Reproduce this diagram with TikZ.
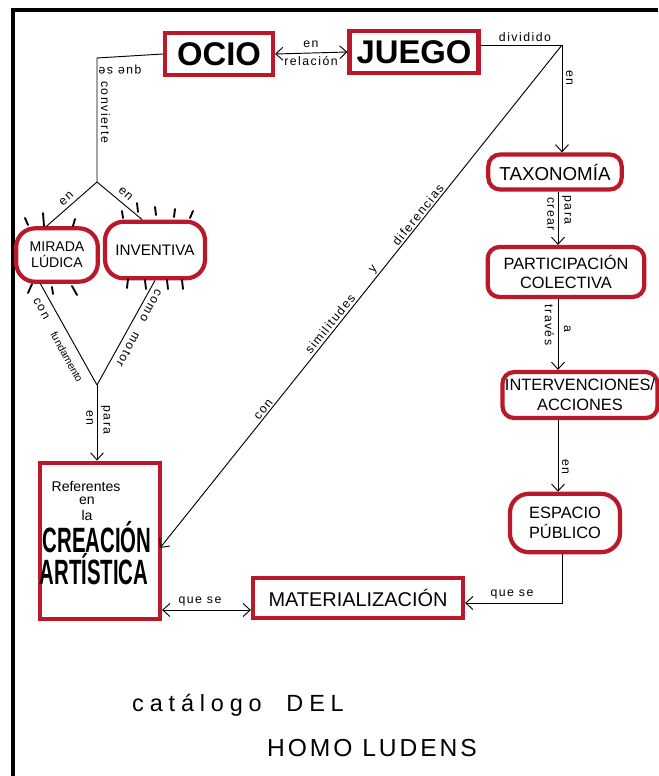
\documentclass[tikz,border=0pt]{standalone}
\usepackage{fontspec}
\usepackage{graphicx}
\setmainfont{Liberation Sans}
\usetikzlibrary{arrows.meta,calc}
\definecolor{mred}{RGB}{185,25,40}
\begin{document}
\begin{tikzpicture}[x=0.03cm,y=-0.03cm,
 box/.style={draw=mred, line width=3.6pt, fill=white, inner sep=2pt, align=center},
 rbox/.style={box, rounded corners=10pt},
 obox/.style={box, rounded corners=16pt},
 conn/.style={line width=0.8pt},
 arr/.style={conn,-{Straight Barb[length=6pt,width=11pt]}},
 darr/.style={conn,{Straight Barb[length=6pt,width=11pt]}-{Straight Barb[length=6pt,width=11pt]}},
 lbl/.style={font=\fontsize{10.5}{11}\selectfont\addfontfeature{LetterSpace=12}, inner sep=1.5pt},
 slbl/.style={font=\fontsize{9}{10}\selectfont, inner sep=1.5pt},
 ray/.style={line width=1.6pt, line cap=round}
]
\useasboundingbox (0,0) rectangle (658,776);
\draw[line width=3.4pt] (13,776) -- (13,10) -- (658,10);

% main nodes
\node[box, minimum width=3.24cm, minimum height=1.26cm, font=\fontsize{28}{28}\selectfont\bfseries] (ocio) at (219,54) {OCIO};
\node[box, minimum width=3.87cm, minimum height=1.26cm, font=\fontsize{28}{28}\selectfont\bfseries] (juego) at (414,52) {JUEGO};
\node[rbox, minimum width=4.0cm, minimum height=1.05cm, font=\fontsize{16}{16}\selectfont] (taxo) at (555,172) {TAXONOMÍA};
\node[rbox, minimum width=4.7cm, minimum height=1.5cm, font=\fontsize{14}{17}\selectfont] (part) at (566,272) {PARTICIPACIÓN\\COLECTIVA};
\node[rbox, minimum width=4.65cm, minimum height=1.38cm, font=\fontsize{14}{17}\selectfont] (inter) at (580,395) {INTERVENCIONES/\\ACCIONES};
\node[obox, minimum width=3.3cm, minimum height=1.75cm, font=\fontsize{14}{17}\selectfont] (espacio) at (565,523) {ESPACIO\\PÚBLICO};
\node[box, minimum width=6.3cm, minimum height=1.2cm, font=\fontsize{17}{17}\selectfont] (mater) at (358,598) {MATERIALIZACIÓN};
\node[obox, minimum width=2.45cm, minimum height=1.6cm, font=\fontsize{12}{14}\selectfont] (mirada) at (57,255) {MIRADA\\LÚDICA};
\node[obox, minimum width=3.0cm, minimum height=1.7cm, font=\fontsize{13}{13}\selectfont] (inventiva) at (155,250) {INVENTIVA};
\node[box, minimum width=3.6cm, minimum height=4.7cm] (creacion) at (100,541) {};
\node[font=\fontsize{12}{12}\selectfont] (ref) at (86,486) {Referentes};
\node[font=\fontsize{12}{12}\selectfont] (en3) at (87,501) {en};
\node[font=\fontsize{12}{12}\selectfont] (la) at (87,515) {la};
\node[font=\fontsize{30}{30}\selectfont\bfseries] (crea) at (97,537) {\scalebox{0.58}[1]{CREACIÓN}};
\node[font=\fontsize{30}{30}\selectfont\bfseries] (art) at (94,569) {\scalebox{0.58}[1]{ARTÍSTICA}};

% coordinates
\coordinate (cTR) at (562,45);
\coordinate (cTL) at (97,58);
\coordinate (jTop) at (97,182);
\coordinate (jBot) at (97,385);
\coordinate (cBR) at (562,603);
\coordinate (vx) at (558,0);
\coordinate (hy) at (0,610);
\coordinate (tipC) at (160,548);

% connectors
\draw[darr] (ocio.east) -- (juego.west);
\node[lbl] (lEnRel) at (311,44) {en};
\node[lbl] (lRel) at (311,61) {relación};

\draw[conn] (juego.east |- cTR) -- (cTR);
\node[lbl, anchor=south] (lDiv) at (525,44) {dividido};
\draw[arr] (cTR) -- (taxo.north -| cTR);
\node[lbl, rotate=-90, anchor=south] (lEnT) at (564,78) {en};

\draw[arr] (cTR) -- (tipC);
\node[lbl, rotate=51.4, anchor=south] (lDif) at (423,219) {diferencias};
\node[lbl, rotate=51.4, anchor=south] (lY) at (379,274) {y};
\node[lbl, rotate=51.4, anchor=south] (lSim) at (335,328) {similitudes};
\node[lbl, rotate=51.4, anchor=south] (lCon) at (268,413) {con};

\draw[conn] (ocio.west) -- (cTL) -- (jTop);
\node[lbl, rotate=180, anchor=south] (lQue) at (120,63) {que se};
\node[lbl, rotate=-90, anchor=south] (lConv) at (99,112) {convierte};

\draw[conn] (jTop) -- (mirada.110);
\draw[conn] (jTop) -- (inventiva.113);
\node[lbl, rotate=43, anchor=south] (lEnM) at (70,203) {en};
\node[lbl, rotate=-42, anchor=south] (lEnI) at (122,198) {en};

\draw[conn] (mirada.240) -- (jBot);
\draw[conn] (inventiva.south) -- (jBot);
\node[lbl, rotate=-61, anchor=north] (lConF) at (46,306) {con};
\node[slbl, rotate=-61, anchor=north] (lFund) at (72,354) {fundamento};
\node[lbl, rotate=-119, anchor=south] (lComo) at (146,303) {como};
\node[lbl, rotate=-119, anchor=south] (lMot) at (123,347) {motor};

\draw[arr] (jBot) -- (creacion.north -| jBot);
\node[lbl, rotate=-90, anchor=south] (lPara) at (99,420) {para};
\node[lbl, rotate=-90, anchor=north] (lEnC) at (95,418) {en};

\draw[arr] (taxo.south -| vx) -- (part.north -| vx);
\node[lbl, rotate=-90, anchor=south] (lPara2) at (560,210) {para};
\node[lbl, rotate=-90, anchor=north] (lCrear) at (556,214) {crear};
\draw[arr] (part.south -| vx) -- (inter.north -| vx);
\node[lbl, rotate=-90, anchor=north] (lTrav) at (556,325) {través};
\node[lbl, rotate=-90, anchor=south] (lA) at (562,329) {a};
\draw[arr] (inter.south -| vx) -- (espacio.north -| vx);
\node[lbl, rotate=-90, anchor=south] (lEnE) at (560,467) {en};

\draw[arr] (espacio.south -| cBR) -- (cBR) -- (mater.east |- cBR);
\node[lbl, anchor=south] (lQue2) at (512,601) {que se};
\draw[darr] (creacion.east |- hy) -- (mater.west |- hy);
\node[lbl, anchor=south] (lQue3) at (200,608) {que se};

% rays
\draw[ray] (25,218) -- (28,225);
\draw[ray] (43,213) -- (44,226);
\draw[ray] (75,219) -- (73,226);
\draw[ray] (32,284) -- (28,293);
\draw[ray] (52,287) -- (53,294);
\draw[ray] (72,286) -- (77,295);
\draw[ray] (122,211) -- (123,218);
\draw[ray] (137,203) -- (138,212);
\draw[ray] (155,207) -- (156,215);
\draw[ray] (175,209) -- (174,217);
\draw[ray] (193,211) -- (190,218);
\draw[ray] (128,279) -- (127,288);
\draw[ray] (145,280) -- (146,289);
\draw[ray] (167,280) -- (168,289);
\draw[ray] (182,280) -- (183,289);

% title
\node[font=\fontsize{20}{20}\selectfont\addfontfeature{LetterSpace=25}] (cat) at (238,705) {catálogo\ \ DEL};
\node[font=\fontsize{21}{21}\selectfont\addfontfeature{LetterSpace=12}] (homo) at (372,748) {HOMO LUDENS};
\end{tikzpicture}
\end{document}
